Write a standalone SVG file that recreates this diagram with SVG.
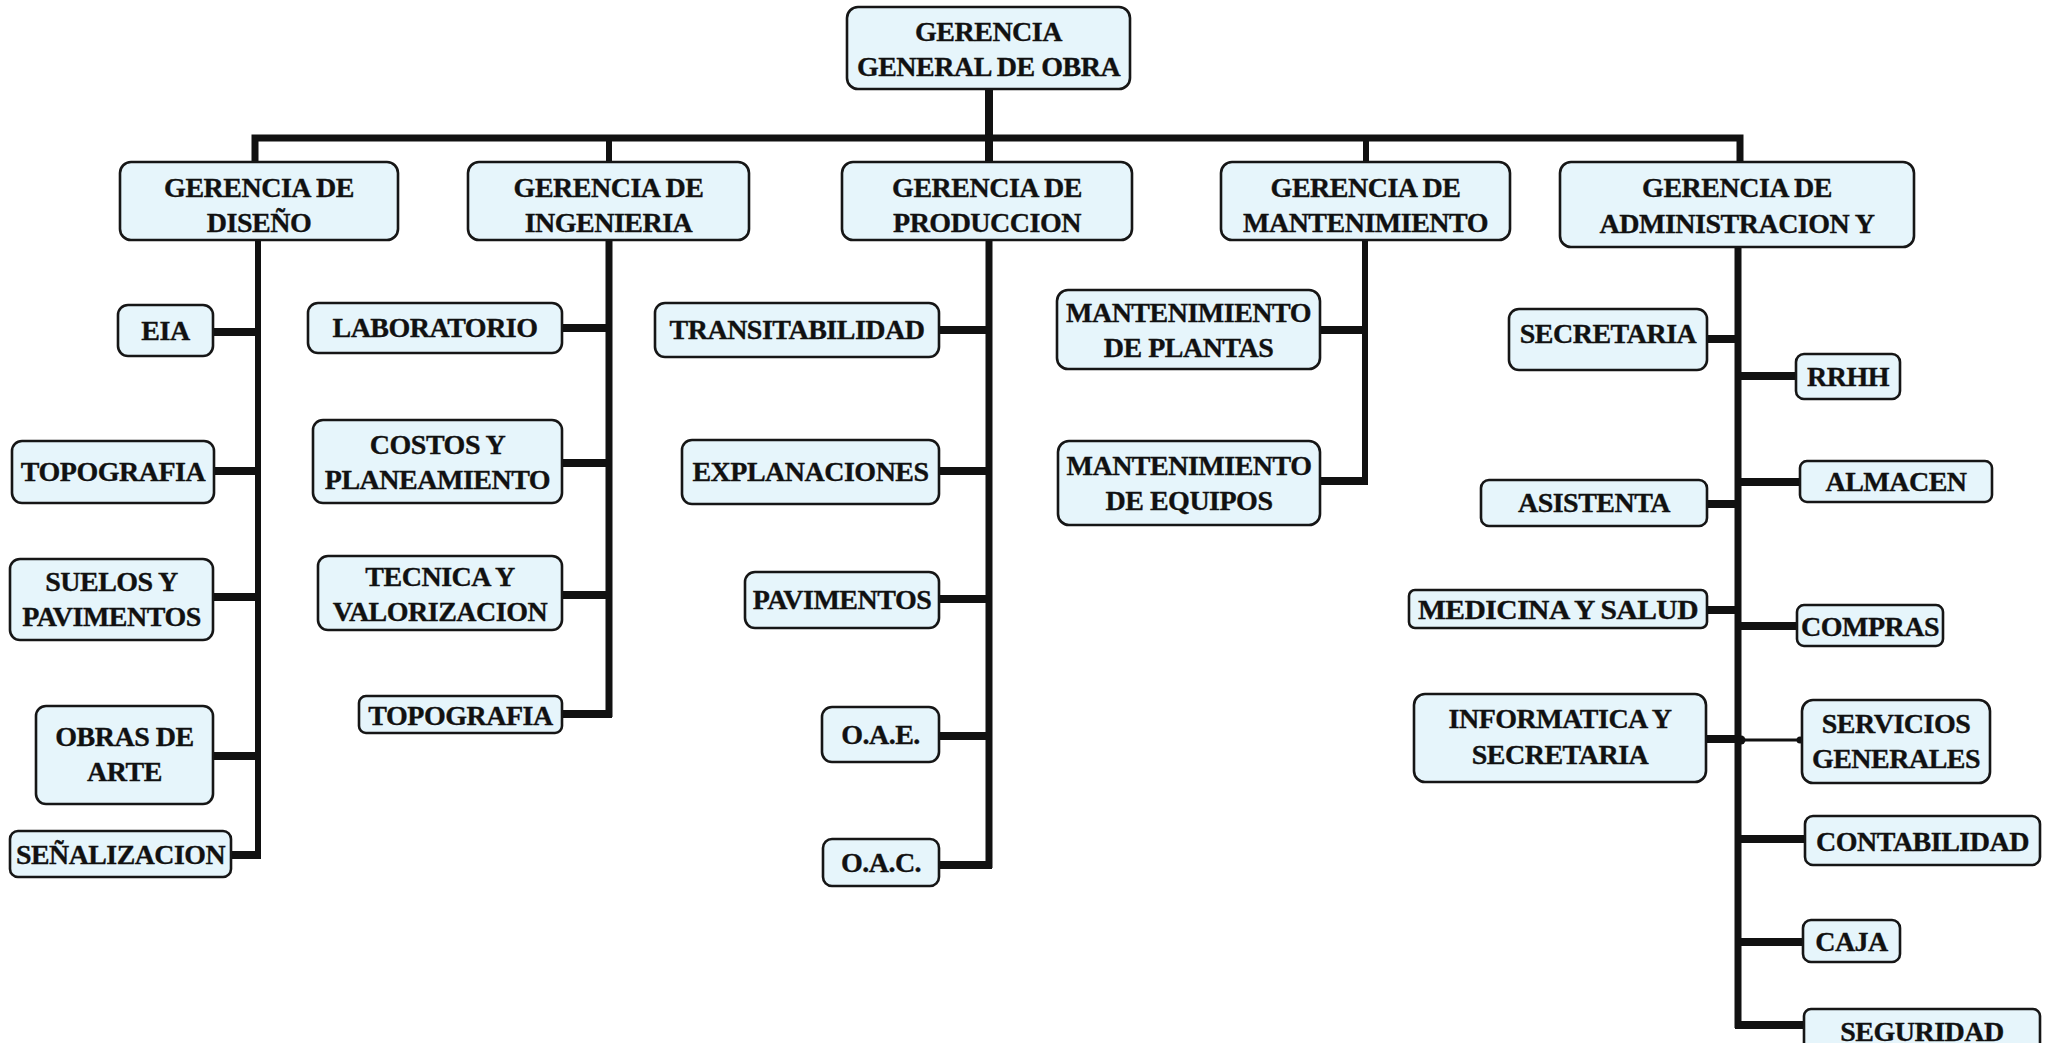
<svg xmlns="http://www.w3.org/2000/svg" width="2060" height="1043" viewBox="0 0 2060 1043">
<style>
.box{fill:#e6f5fb;stroke:#161616;stroke-width:2.6}
.t{font-family:"Liberation Serif","Times New Roman",serif;font-weight:bold;font-size:28px;letter-spacing:-0.5px;fill:#111;stroke:#111;stroke-width:0.35;text-anchor:middle}
.c{fill:none;stroke:#111;stroke-linecap:butt;stroke-linejoin:miter}
.w8{stroke-width:8}
.w7{stroke-width:7}
.w6{stroke-width:6}
.w3{stroke-width:3}
</style>
<rect width="2060" height="1043" fill="#ffffff"/>
<g id="connectors">
<path class="c w8" d="M989 89V138"/>
<path class="c w7" d="M255 162V138H1740V162"/>
<path class="c w6" d="M609 138V162"/>
<path class="c w8" d="M989 138V162"/>
<path class="c w6" d="M1366 138V162"/>
<path class="c w6" d="M258 240V858"/>
<path class="c w8" d="M213 332H258M214 471H258M213 597H258M213 756H258M231 855H261"/>
<path class="c w7" d="M609 239V717"/>
<path class="c w8" d="M562 328H609M562 463H609M562 595H609M562 714H612"/>
<path class="c w7" d="M989 239V868"/>
<path class="c w8" d="M939 330H989M939 471H989M939 599H989M939 736H989M939 865H992"/>
<path class="c w6" d="M1365 239V484"/>
<path class="c w8" d="M1320 330H1365M1320 481H1368"/>
<path class="c w7" d="M1738 247V1028"/>
<path class="c w8" d="M1707 339H1738M1707 504H1738M1707 610H1738M1706 739H1738"/>
<path class="c w8" d="M1738 376H1796M1738 482H1800M1738 626H1797M1738 839H1805M1738 942H1803M1735 1025H1804"/>
<path class="c w3" d="M1738 740H1802"/>
<circle cx="1741" cy="740" r="4.5" fill="#111"/>
<circle cx="1800" cy="740" r="3.5" fill="#111"/>
</g>
<g id="n-gerencia-general"><rect class="box" x="847" y="7" width="283" height="82" rx="11"/><text class="t" x="988.5" y="41">GERENCIA</text><text class="t" x="988.5" y="76">GENERAL DE OBRA</text></g>
<g id="n-diseno"><rect class="box" x="120" y="162" width="278" height="78" rx="11"/><text class="t" x="259" y="197">GERENCIA DE</text><text class="t" x="259" y="232">DISEÑO</text></g>
<g id="n-ingenieria"><rect class="box" x="468" y="162" width="281" height="78" rx="11"/><text class="t" x="608.5" y="197">GERENCIA DE</text><text class="t" x="608.5" y="232">INGENIERIA</text></g>
<g id="n-produccion"><rect class="box" x="842" y="162" width="290" height="78" rx="11"/><text class="t" x="987" y="197">GERENCIA DE</text><text class="t" x="987" y="232">PRODUCCION</text></g>
<g id="n-mantenimiento"><rect class="box" x="1221" y="162" width="289" height="78" rx="11"/><text class="t" x="1365.5" y="197">GERENCIA DE</text><text class="t" x="1365.5" y="232">MANTENIMIENTO</text></g>
<g id="n-administracion"><rect class="box" x="1560" y="162" width="354" height="85" rx="11"/><text class="t" x="1737" y="197">GERENCIA DE</text><text class="t" x="1737" y="233">ADMINISTRACION Y</text></g>
<g id="n-eia"><rect class="box" x="118" y="305" width="95" height="51" rx="10"/><text class="t" x="165.5" y="340">EIA</text></g>
<g id="n-topografia-d"><rect class="box" x="12" y="441" width="202" height="62" rx="10"/><text class="t" x="113" y="481">TOPOGRAFIA</text></g>
<g id="n-suelos"><rect class="box" x="10" y="559" width="203" height="81" rx="10"/><text class="t" x="111.5" y="591">SUELOS Y</text><text class="t" x="111.5" y="626">PAVIMENTOS</text></g>
<g id="n-obras"><rect class="box" x="36" y="706" width="177" height="98" rx="10"/><text class="t" x="124.5" y="746">OBRAS DE</text><text class="t" x="124.5" y="781">ARTE</text></g>
<g id="n-senalizacion"><rect class="box" x="10" y="831" width="221" height="46" rx="8"/><text class="t" x="120.5" y="864" textLength="209" lengthAdjust="spacingAndGlyphs">SEÑALIZACION</text></g>
<g id="n-laboratorio"><rect class="box" x="308" y="303" width="254" height="50" rx="10"/><text class="t" x="435" y="337">LABORATORIO</text></g>
<g id="n-costos"><rect class="box" x="313" y="420" width="249" height="83" rx="10"/><text class="t" x="437.5" y="454">COSTOS Y</text><text class="t" x="437.5" y="489">PLANEAMIENTO</text></g>
<g id="n-tecnica"><rect class="box" x="318" y="556" width="244" height="74" rx="10"/><text class="t" x="440" y="586">TECNICA Y</text><text class="t" x="440" y="621">VALORIZACION</text></g>
<g id="n-topografia-i"><rect class="box" x="359" y="696" width="203" height="37" rx="7"/><text class="t" x="460.5" y="725">TOPOGRAFIA</text></g>
<g id="n-transitabilidad"><rect class="box" x="655" y="303" width="284" height="54" rx="10"/><text class="t" x="797" y="339">TRANSITABILIDAD</text></g>
<g id="n-explanaciones"><rect class="box" x="682" y="440" width="257" height="64" rx="10"/><text class="t" x="810.5" y="481">EXPLANACIONES</text></g>
<g id="n-pavimentos"><rect class="box" x="745" y="572" width="194" height="56" rx="10"/><text class="t" x="842" y="609">PAVIMENTOS</text></g>
<g id="n-oae"><rect class="box" x="822" y="707" width="117" height="55" rx="10"/><text class="t" x="880.5" y="744">O.A.E.</text></g>
<g id="n-oac"><rect class="box" x="823" y="839" width="116" height="47" rx="9"/><text class="t" x="881" y="872">O.A.C.</text></g>
<g id="n-mant-plantas"><rect class="box" x="1057" y="290" width="263" height="79" rx="11"/><text class="t" x="1188.5" y="322">MANTENIMIENTO</text><text class="t" x="1188.5" y="357">DE PLANTAS</text></g>
<g id="n-mant-equipos"><rect class="box" x="1058" y="441" width="262" height="84" rx="11"/><text class="t" x="1189" y="475">MANTENIMIENTO</text><text class="t" x="1189" y="510">DE EQUIPOS</text></g>
<g id="n-secretaria"><rect class="box" x="1509" y="309" width="198" height="61" rx="10"/><text class="t" x="1608" y="343">SECRETARIA</text></g>
<g id="n-rrhh"><rect class="box" x="1796" y="354" width="104" height="45" rx="8"/><text class="t" x="1848" y="386">RRHH</text></g>
<g id="n-almacen"><rect class="box" x="1800" y="461" width="192" height="41" rx="7"/><text class="t" x="1896" y="491">ALMACEN</text></g>
<g id="n-asistenta"><rect class="box" x="1481" y="480" width="226" height="46" rx="8"/><text class="t" x="1594" y="512">ASISTENTA</text></g>
<g id="n-medicina"><rect class="box" x="1409" y="590" width="298" height="38" rx="6"/><text class="t" x="1558" y="619" textLength="280" lengthAdjust="spacingAndGlyphs">MEDICINA Y SALUD</text></g>
<g id="n-compras"><rect class="box" x="1797" y="605" width="146" height="41" rx="7"/><text class="t" x="1870" y="636">COMPRAS</text></g>
<g id="n-informatica"><rect class="box" x="1414" y="694" width="292" height="88" rx="11"/><text class="t" x="1560" y="728">INFORMATICA Y</text><text class="t" x="1560" y="764">SECRETARIA</text></g>
<g id="n-servicios"><rect class="box" x="1802" y="700" width="188" height="83" rx="11"/><text class="t" x="1896" y="733">SERVICIOS</text><text class="t" x="1896" y="768">GENERALES</text></g>
<g id="n-contabilidad"><rect class="box" x="1805" y="816" width="235" height="49" rx="8"/><text class="t" x="1922.5" y="851">CONTABILIDAD</text></g>
<g id="n-caja"><rect class="box" x="1803" y="920" width="97" height="42" rx="8"/><text class="t" x="1851.5" y="951">CAJA</text></g>
<g id="n-seguridad"><rect class="box" x="1804" y="1009" width="236" height="44" rx="7"/><text class="t" x="1922" y="1041">SEGURIDAD</text></g>
</svg>
